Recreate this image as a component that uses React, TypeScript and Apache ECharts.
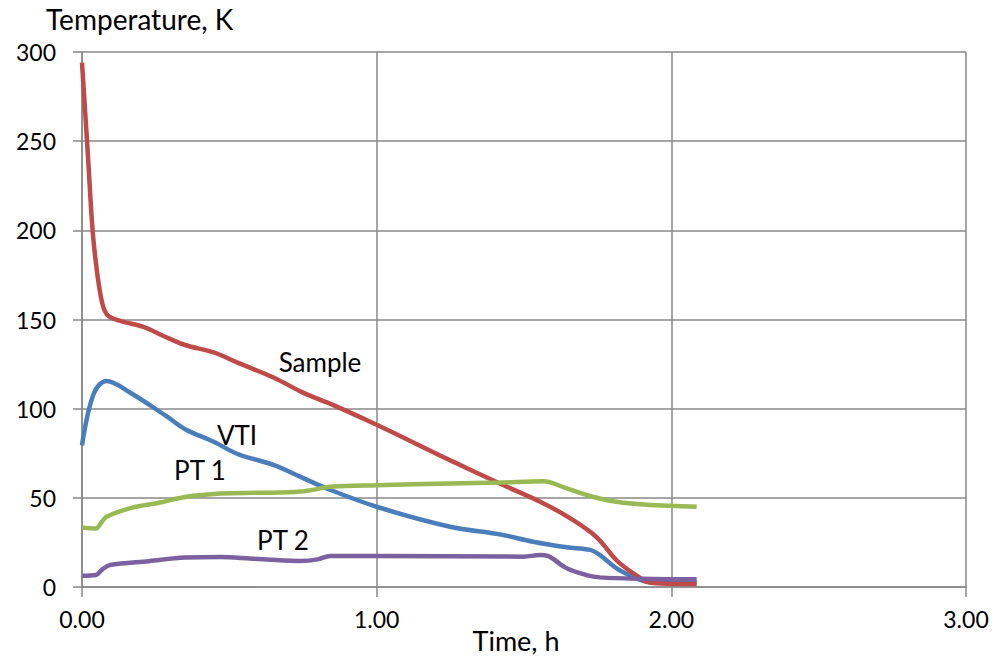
import React, { useEffect, useRef } from "react";
import * as echarts from "echarts";

// Time (h) and temperature (K)
const sampleTime = [0, 0.019, 0.036, 0.05, 0.064, 0.076, 0.093, 0.138, 0.206, 0.28, 0.35, 0.447, 0.532, 0.65, 0.75, 0.853, 1.0, 1.25, 1.418, 1.565, 1.667, 1.746, 1.814, 1.871, 1.927, 2.0, 2.086];
const sampleTemp = [294, 245, 200, 178, 162.8, 155.3, 151.6, 148.8, 146, 140.5, 135.7, 131.5, 125.5, 117.5, 109, 102, 91, 71, 58, 47, 37.5, 28, 15, 7.7, 2.5, 1.8, 1.7];

const vtiTime = [0, 0.04, 0.083, 0.168, 0.289, 0.35, 0.447, 0.531, 0.652, 0.74, 0.83, 1.0, 1.249, 1.418, 1.531, 1.645, 1.724, 1.758, 1.814, 1.871, 1.916, 2.0, 2.086];
const vtiTemp = [79.4, 108.5, 115.5, 108.5, 95.5, 88.5, 81.4, 74.4, 68.4, 61.9, 55.3, 45, 33.8, 29.5, 25.4, 22.3, 20.8, 17.9, 10.5, 5.8, 3, 2.5, 2.5];

const pt1Time = [0, 0.047, 0.065, 0.083, 0.168, 0.265, 0.35, 0.471, 0.592, 0.74, 0.853, 1.0, 1.249, 1.418, 1.565, 1.645, 1.712, 1.792, 1.893, 2.0, 2.086];
const pt1Temp = [33.4, 32.8, 36, 39.4, 44.4, 47.4, 50.5, 52.4, 52.8, 53.5, 56.3, 57.1, 58.1, 58.6, 59.3, 55.3, 51.6, 48.4, 46.4, 45.5, 45];

const pt2Time = [0, 0.047, 0.07, 0.095, 0.227, 0.35, 0.471, 0.57, 0.628, 0.74, 0.8, 0.842, 1.0, 1.498, 1.554, 1.58, 1.645, 1.712, 1.758, 1.9, 2.086];
const pt2Temp = [6.3, 6.7, 10, 12.3, 14.5, 16.5, 16.8, 16, 15.4, 14.6, 15.5, 17.4, 17.4, 17, 17.9, 17.4, 10.5, 6.7, 5.4, 4.6, 4.3];

const xTicks = { min: 0, max: 3, interval: 1 };
const yTicks = { min: 0, max: 300, interval: 50 };

const FONT = "Lato";
const GRID = "#888888";

function zip(t: number[], v: number[]) {
  return t.map((x, i) => [x, v[i]]);
}

function lineSeries(name: string, color: string, data: number[][], z: number) {
  return {
    name,
    type: "line",
    data,
    showSymbol: false,
    smooth: 0.35,
    z,
    lineStyle: { color, width: 4.5 },
    itemStyle: { color },
  };
}

export default function App() {
  const ref = useRef<HTMLDivElement>(null);
  useEffect(() => {
    if (!ref.current) return;
    const chart = echarts.init(ref.current, null, { renderer: "svg" });
    chart.setOption({
      animation: false,
      backgroundColor: "#ffffff",
      grid: { left: 82, right: 30, top: 52, bottom: 75, containLabel: false },
      xAxis: {
        type: "value",
        ...xTicks,
        axisLine: { show: true, lineStyle: { color: GRID, width: 1.5 } },
        axisTick: { show: true, length: 10, lineStyle: { color: GRID, width: 1.5 } },
        splitLine: { show: true, lineStyle: { color: GRID, width: 1.5 } },
        axisLabel: {
          formatter: (v: number) => v.toFixed(2),
          color: "#000",
          fontFamily: FONT,
          fontSize: 23,
          margin: 20,
        },
      },
      yAxis: {
        type: "value",
        ...yTicks,
        axisLine: { show: true, lineStyle: { color: GRID, width: 1.5 } },
        axisTick: { show: true, length: 9, lineStyle: { color: GRID, width: 1.5 } },
        splitLine: { show: true, lineStyle: { color: GRID, width: 1.5 } },
        axisLabel: { color: "#000", fontFamily: FONT, fontSize: 23, margin: 26 },
      },
      graphic: [
        { type: "text", left: 46, top: 5, style: { text: "Temperature, K", fontFamily: FONT, fontSize: 28, fill: "#000" } },
        { type: "text", x: 516, y: 640, style: { text: "Time, h", fontFamily: FONT, fontSize: 27, fill: "#000", align: "center", verticalAlign: "middle" } },
        { type: "text", x: 320, y: 362, style: { text: "Sample", fontFamily: FONT, fontSize: 26, fill: "#000", align: "center", verticalAlign: "middle" } },
        { type: "text", x: 237, y: 435, style: { text: "VTI", fontFamily: FONT, fontSize: 26, fill: "#000", align: "center", verticalAlign: "middle" } },
        { type: "text", x: 200, y: 470, style: { text: "PT 1", fontFamily: FONT, fontSize: 26, fill: "#000", align: "center", verticalAlign: "middle" } },
        { type: "text", x: 283, y: 540, style: { text: "PT 2", fontFamily: FONT, fontSize: 26, fill: "#000", align: "center", verticalAlign: "middle" } },
      ],
      series: [
        lineSeries("VTI", "#4a7ebb", zip(vtiTime, vtiTemp), 2),
        lineSeries("Sample", "#be4b48", zip(sampleTime, sampleTemp), 3),
        lineSeries("PT 1", "#98b954", zip(pt1Time, pt1Temp), 4),
        lineSeries("PT 2", "#7d60a0", zip(pt2Time, pt2Temp), 5),
      ],
    });
    return () => chart.dispose();
  }, []);
  return (
    <div
      ref={ref}
      style={{ position: "fixed", left: 0, top: 0, width: 996, height: 662, background: "#fff" }}
    />
  );
}
